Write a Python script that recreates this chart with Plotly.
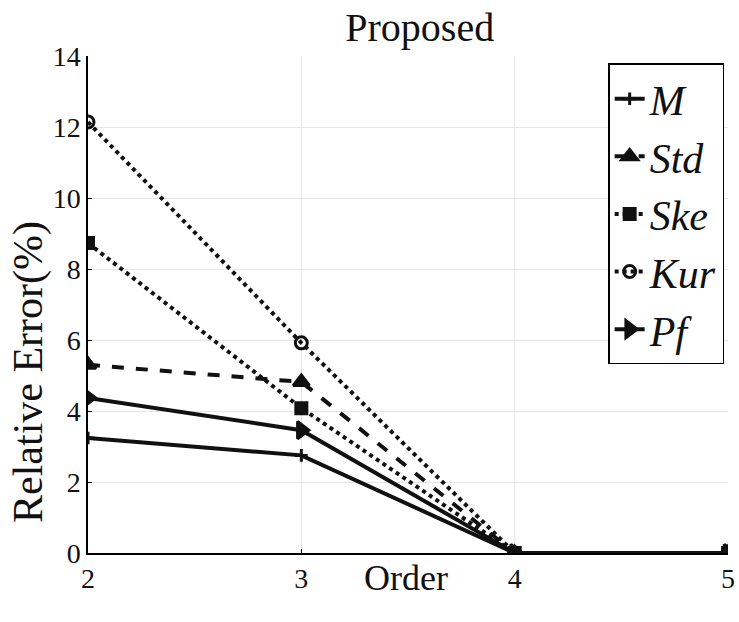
import plotly.graph_objects as go

orders = [2, 3, 4, 5]
m_vals = [3.24, 2.75, 0.0, 0.0]
std_vals = [5.3, 4.82, 0.0, 0.0]
ske_vals = [8.73, 4.08, 0.0, 0.0]
kur_vals = [12.14, 5.92, 0.0, 0.0]
pf_vals = [4.37, 3.46, 0.0, 0.0]

series_names = ["M", "Std", "Ske", "Kur", "Pf"]
series_vals = [m_vals, std_vals, ske_vals, kur_vals, pf_vals]
dashes = ["solid", "dash", "dot", "dot", "solid"]
symbols = ["cross-thin", "triangle-up", "square", "circle-open", "triangle-right"]
msizes = [9, 14, 11, 12, 15]

FONT = "Liberation Serif"
INK = "#111111"

fig = go.Figure()
for name, vals, dash, sym, ms in zip(series_names, series_vals, dashes, symbols, msizes):
    fig.add_trace(go.Scatter(
        x=orders, y=vals, mode="lines+markers",
        name=f"<i>{name}</i>",
        line=dict(color=INK, width=4, dash=dash),
        marker=dict(symbol=sym, size=ms, color=INK,
                    line=dict(color=INK, width=3)),
    ))

fig.update_layout(
    template="simple_white",
    width=739, height=622,
    margin=dict(l=88, r=11, t=56, b=69),
    paper_bgcolor="white", plot_bgcolor="white",
    font=dict(family=FONT, color=INK),
    title=dict(text="Proposed", x=0.568, xanchor="center", y=1 - 27 / 622, yanchor="middle",
               font=dict(family=FONT, size=40, color=INK)),
    xaxis=dict(range=[2, 5], tickvals=[2, 3, 4, 5], showgrid=True, gridcolor="#e6e6e6",
               zeroline=False, showline=True, linecolor="black", linewidth=1.5,
               ticks="inside", ticklen=4, tickcolor="black", automargin=False,
               tickfont=dict(family=FONT, size=28, color=INK)),
    yaxis=dict(range=[0, 14], tickvals=[0, 2, 4, 6, 8, 10, 12, 14], showgrid=True,
               gridcolor="#e6e6e6", zeroline=False, showline=True, linecolor="black",
               linewidth=1.5, ticks="inside", ticklen=4, tickcolor="black",
               automargin=False, tickfont=dict(family=FONT, size=28, color=INK)),
    legend=dict(x=0.994, xanchor="right", y=0.985, yanchor="top",
                bgcolor="white", bordercolor="black", borderwidth=1.5,
                font=dict(family=FONT, size=42, color=INK),
                itemwidth=30, tracegroupgap=0),
    showlegend=True,
    annotations=[
        dict(text="Order", xref="paper", yref="paper", x=(406 - 88) / 640,
             y=-(578 - 553) / 497, xanchor="center", yanchor="middle", showarrow=False,
             font=dict(family=FONT, size=36, color=INK)),
        dict(text="Relative Error(%)", xref="paper", yref="paper", x=-(88 - 28) / 640,
             y=(553 - 372) / 497, xanchor="center", yanchor="middle", showarrow=False,
             textangle=-90, font=dict(family=FONT, size=42, color=INK)),
    ],
)

fig.write_html("out.html", config={"displayModeBar": False},
               post_script="document.body.style.margin='0';")
